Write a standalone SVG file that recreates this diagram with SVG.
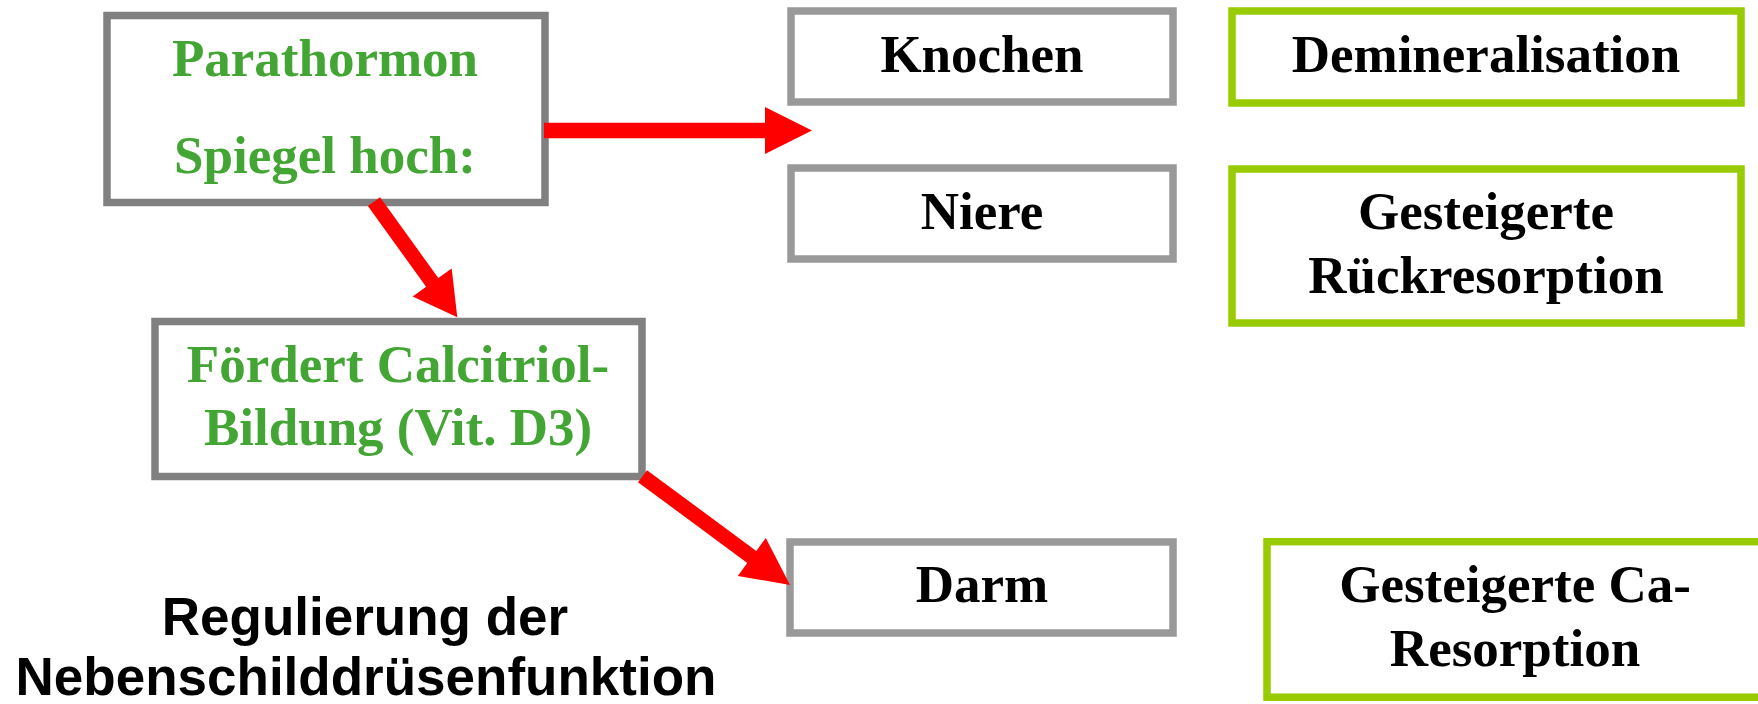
<svg xmlns="http://www.w3.org/2000/svg" width="1758" height="704" viewBox="0 0 1758 704">
<style>
.box{fill:#ffffff;stroke-width:7.5}
.dark{stroke:#808080}
.light{stroke:#999999}
.green{stroke:#99cc00}
.t{font-family:"Liberation Serif","Times New Roman",serif;font-weight:bold;font-size:53px;text-anchor:middle}
.g{fill:#43a534}
.k{fill:#000000}
.title{font-family:"Liberation Sans",Arial,sans-serif;font-weight:bold;font-size:53px;text-anchor:middle;fill:#000000}
.arrow{fill:#ff0000;stroke:none}
</style>
<rect width="1758" height="704" fill="#ffffff"/>
<g id="parathormon">
<rect class="box dark" x="107" y="15.5" width="438" height="187"/>
<text class="t g" x="325" y="76">Parathormon</text>
<text class="t g" x="325" y="173">Spiegel hoch:</text>
</g>
<g id="foerdert">
<rect class="box dark" x="155" y="321.5" width="487" height="155"/>
<text class="t g" x="398" y="382">Fördert Calcitriol-</text>
<text class="t g" x="398" y="445">Bildung (Vit. D3)</text>
</g>
<g id="knochen">
<rect class="box light" x="791" y="11" width="382" height="91"/>
<text class="t k" x="982" y="72">Knochen</text>
</g>
<g id="niere">
<rect class="box light" x="791" y="168" width="382" height="91"/>
<text class="t k" x="982" y="229">Niere</text>
</g>
<g id="darm">
<rect class="box light" x="790" y="542" width="383" height="91"/>
<text class="t k" x="982" y="602">Darm</text>
</g>
<g id="demineralisation">
<rect class="box green" x="1232" y="11" width="509" height="92"/>
<text class="t k" x="1486" y="72">Demineralisation</text>
</g>
<g id="rueckresorption">
<rect class="box green" x="1232" y="169" width="509" height="154"/>
<text class="t k" x="1486" y="229">Gesteigerte</text>
<text class="t k" x="1486" y="293">Rückresorption</text>
</g>
<g id="ca-resorption">
<rect class="box green" x="1267" y="541.7" width="498" height="155.5"/>
<text class="t k" x="1515" y="602">Gesteigerte Ca-</text>
<text class="t k" x="1515" y="666">Resorption</text>
</g>
<g id="title">
<text class="title" x="365" y="635">Regulierung der</text>
<text class="title" x="366" y="695">Nebenschilddrüsenfunktion</text>
</g>
<g id="connectors">
<polygon class="arrow" points="544,122.7 765,122.7 765,107 812,130.5 765,154 765,138.3 544,138.3"/>
<polygon class="arrow" points="380.1,197.3 438.3,278.0 451.7,268.4 457.3,317.3 412.7,296.4 426.1,286.8 367.9,206.1"/>
<polygon class="arrow" points="647.0,470.2 756.3,550.9 765.8,537.9 790,585 737.8,575.9 747.3,562.9 638.0,482.2"/>
</g>
</svg>
